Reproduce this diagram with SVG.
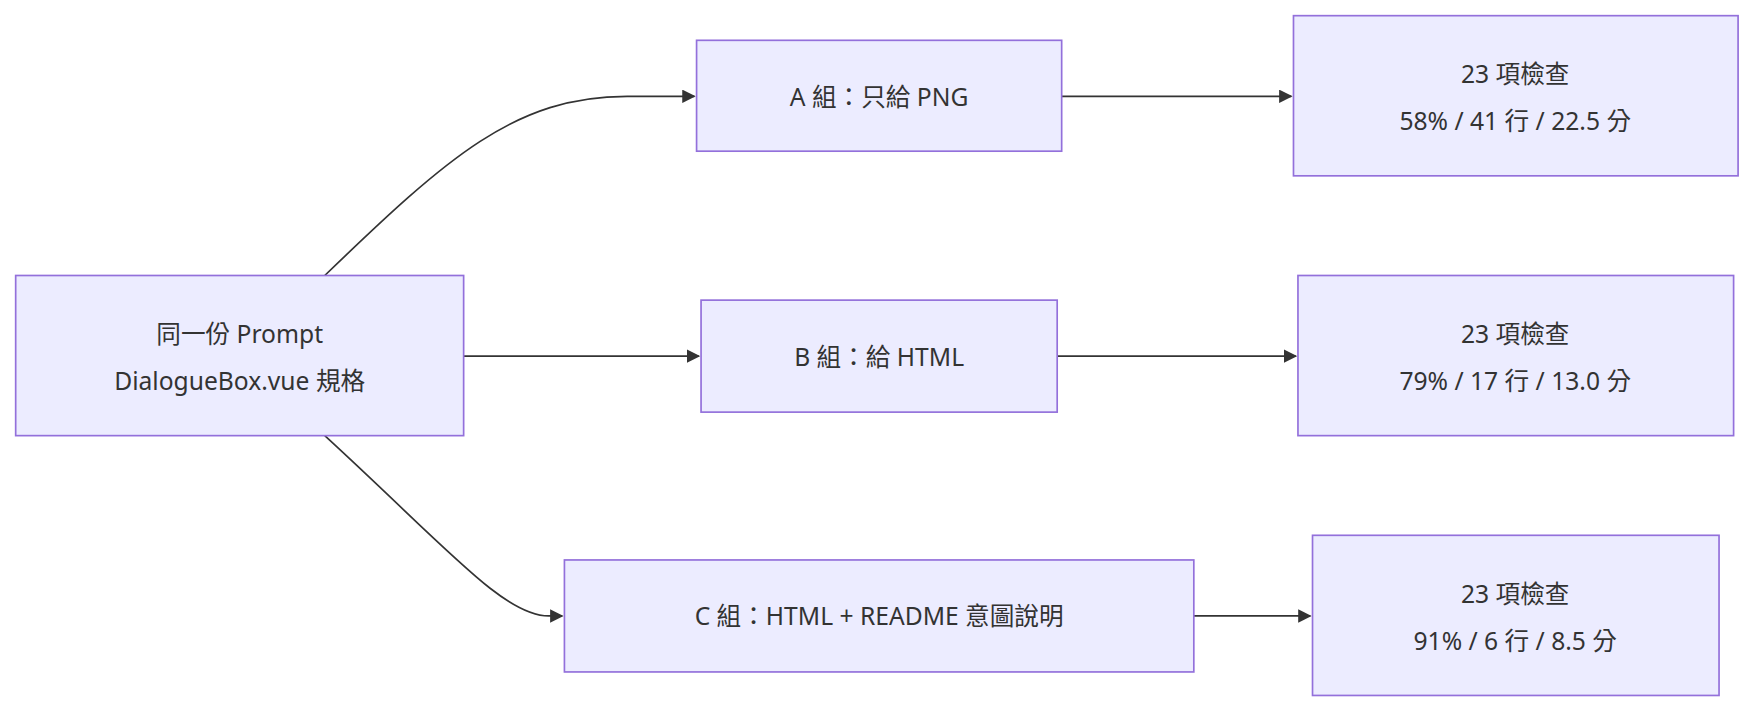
<svg xmlns="http://www.w3.org/2000/svg" width="1756" height="712" viewBox="0 0 1756 712">
<style>
.n rect{fill:#ECECFF;stroke:#9370DB;stroke-width:1.5}
.n text{font-family:"Noto Sans","Noto Sans CJK TC",sans-serif;font-size:22px;fill:#333;text-anchor:middle;dominant-baseline:central}
.e path{fill:none;stroke:#333;stroke-width:1.5}
</style>
<defs><marker id="ar" viewBox="0 0 10 10" refX="9" refY="5" markerWidth="8" markerHeight="8" orient="auto"><path d="M0,0L10,5L0,10z" fill="#333"/></marker></defs>
<rect width="1756" height="712" fill="#fff"/>
<g transform="scale(1.1199)">
<g class="e">
<path d="M290,246 C400,140 460,86 560,86 L620,86" marker-end="url(#ar)"/>
<path d="M414,318 L624,318" marker-end="url(#ar)"/>
<path d="M290,389 C400,490 450,550 490,550 L502,550" marker-end="url(#ar)"/>
<path d="M948,86 L1153,86" marker-end="url(#ar)"/>
<path d="M944,318 L1157,318" marker-end="url(#ar)"/>
<path d="M1066,550 L1170,550" marker-end="url(#ar)"/>
</g>
<g id="start" class="n"><rect x="14" y="246" width="400" height="143"/><text x="214" y="298">同一份 Prompt</text><text x="214" y="340">DialogueBox.vue 規格</text></g>
<g id="A" class="n"><rect x="622" y="36" width="326" height="99"/><text x="785" y="86">A 組：只給 PNG</text></g>
<g id="B" class="n"><rect x="626" y="268" width="318" height="100"/><text x="785" y="318">B 組：給 HTML</text></g>
<g id="C" class="n"><rect x="504" y="500" width="562" height="100"/><text x="785" y="550">C 組：HTML + README 意圖說明</text></g>
<g id="RA" class="n"><rect x="1155" y="14" width="397" height="143"/><text x="1353" y="66">23 項檢查</text><text x="1353" y="108">58% / 41 行 / 22.5 分</text></g>
<g id="RB" class="n"><rect x="1159" y="246" width="389" height="143"/><text x="1353" y="298">23 項檢查</text><text x="1353" y="340">79% / 17 行 / 13.0 分</text></g>
<g id="RC" class="n"><rect x="1172" y="478" width="363" height="143"/><text x="1353" y="530">23 項檢查</text><text x="1353" y="572">91% / 6 行 / 8.5 分</text></g>
</g>
</svg>
